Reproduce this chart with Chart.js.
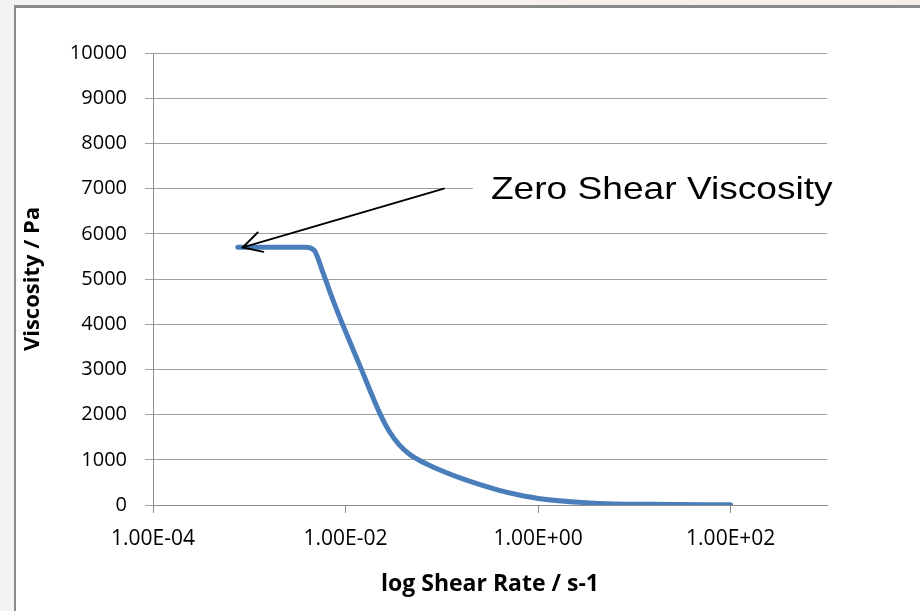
<!DOCTYPE html>
<html>
<head>
<meta charset="utf-8">
<script src="https://cdn.jsdelivr.net/npm/chart.js@4/dist/chart.umd.min.js"></script>
<style>
  html, body { margin: 0; padding: 0; }
  body {
    width: 920px; height: 611px; overflow: hidden; position: relative;
    background: linear-gradient(to right, #f3f3f3 0%, #f6f2ef 50%, #f8eee8 100%);
  }
  #frame {
    position: absolute; left: 14px; top: 5px; width: 910px; height: 610px;
    background: #fff; border-left: 2px solid #8a8a8a; border-top: 3px solid #8a8a8a;
  }
  #wrap { position: absolute; left: 0; top: 0; width: 920px; height: 611px; }
</style>
</head>
<body>
<div id="frame"></div>
<div id="wrap"><canvas id="myChart" width="920" height="611"></canvas></div>
<script>
// shear rate (1/s) and viscosity (Pa)
const shearRate = [0.00076, 0.002, 0.0038, 0.0047, 0.0058, 0.0075, 0.0093, 0.0146, 0.023, 0.0286, 0.0361, 0.0458, 0.0582, 0.0739, 0.094, 0.152, 0.245, 0.394, 0.636, 1.0, 4.3, 14, 100];
const viscosity = [5700, 5700, 5700, 5640, 5150, 4500, 4000, 3000, 2000, 1620, 1330, 1130, 990, 880, 780, 605, 455, 325, 220, 145, 35, 15, 5];

const xTickValues = [1e-4, 1e-2, 1, 100];
const xTickLabels = ['1.00E-04', '1.00E-02', '1.00E+00', '1.00E+02'];

// where the note's arrow starts and the text box begins (data units)
const noteTail = { x: 0.105, y: 7000 };
const noteBoxX = 0.21;
const noteText = 'Zero Shear Viscosity';

const arrowNote = {
    id: 'arrowNote',
    afterDatasetsDraw(chart) {
        const ctx = chart.ctx;
        const xs = chart.scales.x, ys = chart.scales.y;
        const tipX = xs.getPixelForValue(shearRate[0]) + 5;
        const tipY = ys.getPixelForValue(viscosity[0]);
        const tailX = xs.getPixelForValue(noteTail.x);
        const tailY = ys.getPixelForValue(noteTail.y);
        const boxX = xs.getPixelForValue(noteBoxX);

        ctx.save();
        // white text box hides the gridline behind the label
        ctx.fillStyle = '#fff';
        ctx.fillRect(boxX, tailY - 30, 380, 56);

        ctx.strokeStyle = '#000';
        ctx.lineWidth = 2;
        ctx.lineCap = 'round';
        ctx.beginPath();
        ctx.moveTo(tailX, tailY);
        ctx.lineTo(tipX, tipY);
        ctx.stroke();
        // open arrow head
        const ang = Math.atan2(tailY - tipY, tailX - tipX);
        const len = 21, spread = 0.5;
        ctx.beginPath();
        ctx.moveTo(tipX + len * Math.cos(ang - spread), tipY + len * Math.sin(ang - spread));
        ctx.lineTo(tipX, tipY);
        ctx.lineTo(tipX + len * Math.cos(ang + spread), tipY + len * Math.sin(ang + spread));
        ctx.stroke();

        ctx.fillStyle = '#000';
        ctx.font = '32px "Liberation Sans", Arial, sans-serif';
        ctx.textBaseline = 'alphabetic';
        ctx.translate(boxX + 18, tailY + 10);
        ctx.scale(1.16, 1);
        ctx.fillText(noteText, 0, 0);
        ctx.restore();
    }
};

const myChart = new Chart(document.getElementById('myChart'), {
    type: 'scatter',
    data: {
        datasets: [{
            label: 'Viscosity',
            data: shearRate.map((g, i) => ({ x: g, y: viscosity[i] })),
            showLine: true,
            borderColor: 'rgb(74, 126, 187)',
            borderWidth: 5,
            borderCapStyle: 'round',
            borderJoinStyle: 'round',
            cubicInterpolationMode: 'monotone',
            pointRadius: 0,
            fill: false
        }]
    },
    options: {
        responsive: false,
        animation: false,
        events: [],
        layout: { padding: { left: 20, right: 93, top: 53, bottom: 0 } },
        plugins: { legend: { display: false }, tooltip: { enabled: false } },
        scales: {
            x: {
                type: 'logarithmic',
                min: 1e-4,
                max: 1e3,
                afterBuildTicks: (s) => { s.ticks = xTickValues.map(v => ({ value: v })); },
                afterFit: (s) => { s.height = 106; },
                grid: { drawOnChartArea: false, drawTicks: true, tickLength: 8, color: '#8c8c8c' },
                border: { color: '#8c8c8c', width: 1 },
                ticks: {
                    autoSkip: false, maxRotation: 0, padding: 13,
                    color: '#000', font: { family: '"Open Sans", sans-serif', size: 21 },
                    callback: (v, i) => xTickLabels[i]
                },
                title: {
                    display: true, text: 'log Shear Rate / s-1', color: '#000',
                    font: { family: '"Open Sans", sans-serif', size: 23, weight: 'bold' },
                    padding: { top: 0, bottom: 13 }
                }
            },
            y: {
                min: 0,
                max: 10000,
                afterFit: (s) => { s.width = 133; },
                grid: { color: '#a0a0a0', tickLength: 8 },
                border: { color: '#8c8c8c', width: 1 },
                ticks: {
                    stepSize: 1000, padding: 18, color: '#000',
                    font: { family: '"Open Sans", sans-serif', size: 20 },
                    callback: (v) => String(v)
                },
                title: {
                    display: true, text: 'Viscosity / Pa', color: '#000',
                    font: { family: '"Open Sans", sans-serif', size: 22, weight: 'bold' },
                    padding: { top: 0, bottom: 0 }
                }
            }
        }
    },
    plugins: [arrowNote]
});
</script>
</body>
</html>
